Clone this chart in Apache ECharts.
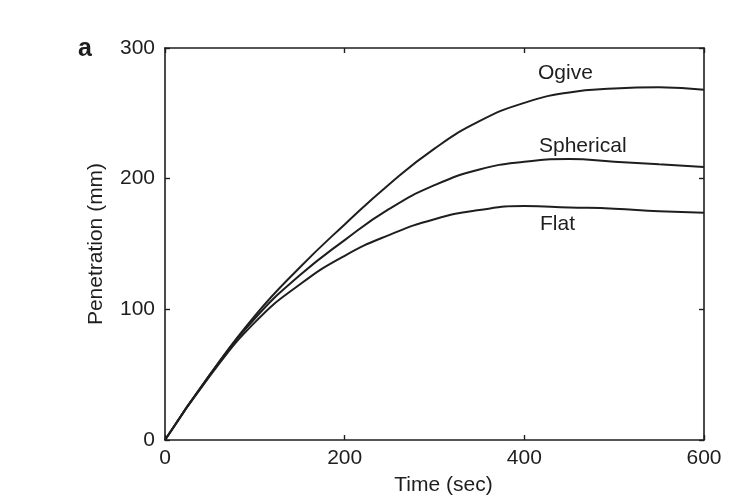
<!DOCTYPE html>
<html>
<head>
<meta charset="utf-8">
<script src="https://cdn.jsdelivr.net/npm/echarts@6/dist/echarts.min.js"></script>
<style>
  html, body { margin: 0; padding: 0; background: #fff; }
  #main { width: 736px; height: 504px; }
</style>
</head>
<body>
<div id="main"></div>
<script>
// time in seconds
var times = [0, 50, 100, 150, 200, 250, 300, 350, 400, 450, 500, 550, 600];
// penetration in mm
var ogive     = [0, 50, 95, 132, 165, 196, 223, 244, 258, 266, 269, 270, 268];
var spherical = [0, 50, 93, 126, 153, 177, 195, 207, 213, 215, 213, 211, 209];
var flat      = [0, 49, 90, 119, 141, 157, 169, 176, 179, 178, 177, 175, 174];
var xTicks = [0, 200, 400, 600];
var yTicks = [0, 100, 200, 300];

function zip(ys) {
    return times.map(function (t, i) { return [t, ys[i]]; });
}

var chart = echarts.init(document.getElementById('main'));
var font = 'Liberation Sans, Arial, Helvetica, sans-serif';
var ink = '#1e1e1e';
var fs = 21;

var axisLine = { show: true, onZero: false, lineStyle: { color: ink, width: 1.6 } };
var tick = { show: true, inside: true, length: 5, lineStyle: { color: ink, width: 1.4 } };

function lineSeries(name, ys) {
    return {
        name: name,
        type: 'line',
        data: zip(ys),
        smooth: 0.5,
        showSymbol: false,
        lineStyle: { color: ink, width: 2 },
        animation: false
    };
}

function label(text, x, y, weight, size) {
    return {
        type: 'text', x: x, y: y,
        style: { text: text, font: weight + ' ' + size + 'px ' + font, fill: ink, verticalAlign: 'middle' }
    };
}

var option = {
    backgroundColor: '#fff',
    textStyle: { fontFamily: font },
    grid: { left: 165, right: 32, top: 48, bottom: 64 },
    xAxis: [
        {
            type: 'value', min: 0, max: 600, interval: 200,
            name: 'Time (sec)', nameLocation: 'middle', nameGap: 35,
            nameTextStyle: { fontSize: fs, color: ink, fontFamily: font, padding: [0, 0, 0, 18] },
            axisLine: axisLine, axisTick: tick,
            axisLabel: { fontSize: fs, color: ink, margin: 8, fontFamily: font,
                formatter: function (v) { return xTicks.indexOf(v) >= 0 ? String(v) : ''; } },
            splitLine: { show: false }
        },
        {
            type: 'value', position: 'top', min: 0, max: 600, interval: 200,
            axisLine: axisLine, axisTick: tick, axisLabel: { show: false }, splitLine: { show: false }
        }
    ],
    yAxis: [
        {
            type: 'value', min: 0, max: 300, interval: 100,
            name: 'Penetration (mm)', nameLocation: 'middle', nameGap: 58,
            nameTextStyle: { fontSize: fs, color: ink, fontFamily: font },
            axisLine: axisLine, axisTick: tick,
            axisLabel: { fontSize: fs, color: ink, margin: 10, fontFamily: font,
                formatter: function (v) { return yTicks.indexOf(v) >= 0 ? String(v) : ''; } },
            splitLine: { show: false }
        },
        {
            type: 'value', position: 'right', min: 0, max: 300, interval: 100,
            axisLine: axisLine, axisTick: tick, axisLabel: { show: false }, splitLine: { show: false }
        }
    ],
    graphic: [
        label('a', 78, 49, 'bold', 25),
        label('Ogive', 538, 73, 'normal', fs),
        label('Spherical', 539, 146, 'normal', fs),
        label('Flat', 540, 224, 'normal', fs)
    ],
    series: [
        lineSeries('Ogive', ogive),
        lineSeries('Spherical', spherical),
        lineSeries('Flat', flat)
    ]
};

option && chart.setOption(option);
</script>
</body>
</html>
